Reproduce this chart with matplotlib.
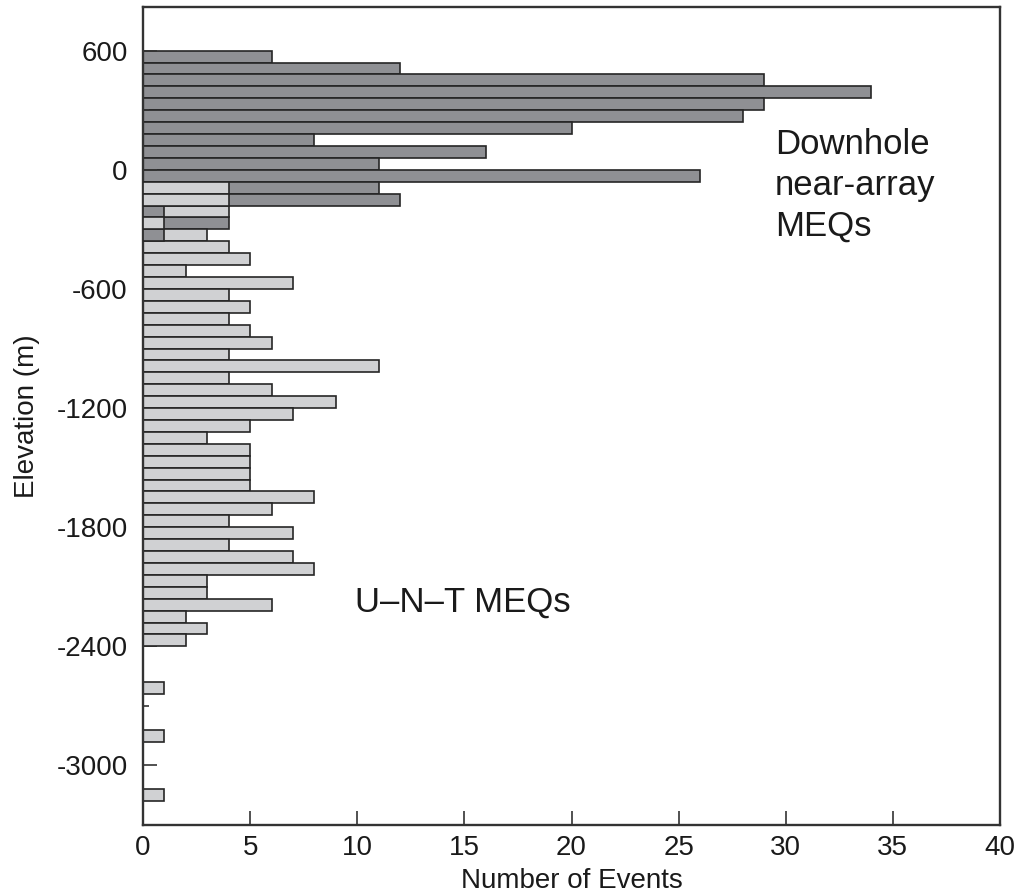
import matplotlib
matplotlib.use("Agg")
import matplotlib.pyplot as plt
from matplotlib.ticker import MultipleLocator
import numpy as np

plt.rcParams['font.family'] = ['Liberation Sans', 'DejaVu Sans']
plt.rcParams['axes.unicode_minus'] = False

# 60 m elevation bins, listed from the top bin [540, 600] downwards
bin_top = 600
bin_width = 60

# downhole near-array events per bin (rows 0..15)
downhole_counts = [6, 12, 29, 34, 29, 28, 20, 8, 16, 11, 26, 11, 12, 1, 4, 1]

# U-N-T events per bin, starting at row 11
unt_first_row = 11
unt_counts = [4, 4, 4, 1, 3, 4, 5, 2, 7, 4, 5, 4, 5, 6, 4, 11, 4, 6, 9, 7,
              5, 3, 5, 5, 5, 5, 8, 6, 4, 7, 4, 7, 8, 3, 3, 6, 2, 3, 2, 0,
              0, 0, 1, 0, 0, 0, 1, 0, 0, 0, 0, 1]

dark_color = '#8f9094'
light_color = '#d0d1d3'
edge_color = '#262626'

fig = plt.figure(figsize=(10.18, 8.96), dpi=100)
ax = fig.add_axes([0.1405, 0.0792, 0.8418, 0.913])


def bin_centres(first_row, n):
    rows = np.arange(first_row, first_row + n)
    return bin_top - bin_width * (rows + 0.5)


dh_y = bin_centres(0, len(downhole_counts))
unt_y = bin_centres(unt_first_row, len(unt_counts))

dh_bars = ax.barh(dh_y, downhole_counts, height=bin_width, color=dark_color,
                  edgecolor=edge_color, linewidth=1.2)
unt_bars = ax.barh(unt_y, unt_counts, height=bin_width, color=light_color,
                   edgecolor=edge_color, linewidth=1.2)

# where both histograms share a bin, the shorter bar sits in front
dh_lookup = {round(y): (c, b) for y, c, b in zip(dh_y, downhole_counts, dh_bars)}
for y, c, b in zip(unt_y, unt_counts, unt_bars):
    if c == 0:
        b.set_visible(False)
        continue
    b.set_zorder(2)
    if round(y) in dh_lookup:
        dc, db = dh_lookup[round(y)]
        if dc < c:
            db.set_zorder(3)
        else:
            b.set_zorder(3)

ax.set_xlim(0, 40)
ax.set_ylim(-3300, 820)

ax.xaxis.set_major_locator(MultipleLocator(5))
ax.yaxis.set_major_locator(MultipleLocator(600))
ax.yaxis.set_minor_locator(MultipleLocator(300))

ax.tick_params(axis='both', which='major', direction='in', length=10,
               width=1.2, colors='#333333', labelcolor='#1a1a1a', labelsize=20)
ax.tick_params(axis='y', which='minor', direction='in', length=4, width=1.2,
               colors='#333333')
ax.tick_params(axis='y', which='major', pad=11)
ax.tick_params(axis='x', which='major', pad=7)

for side in ['left', 'right', 'top', 'bottom']:
    ax.spines[side].set_linewidth(1.7)
    ax.spines[side].set_color('#333333')

ax.set_xlabel('Number of Events', fontsize=20, color='#1a1a1a', labelpad=5)
ax.set_ylabel('Elevation (m)', fontsize=20, color='#1a1a1a', labelpad=12)

ax.text(29.5, -78, 'Downhole\nnear-array\nMEQs', fontsize=25, color='#1a1a1a',
        ha='left', va='center', linespacing=1.3)
ax.text(9.9, -2180, 'U\u2013N\u2013T MEQs', fontsize=25, color='#1a1a1a',
        ha='left', va='center')

fig.savefig('out.png', dpi=100)
